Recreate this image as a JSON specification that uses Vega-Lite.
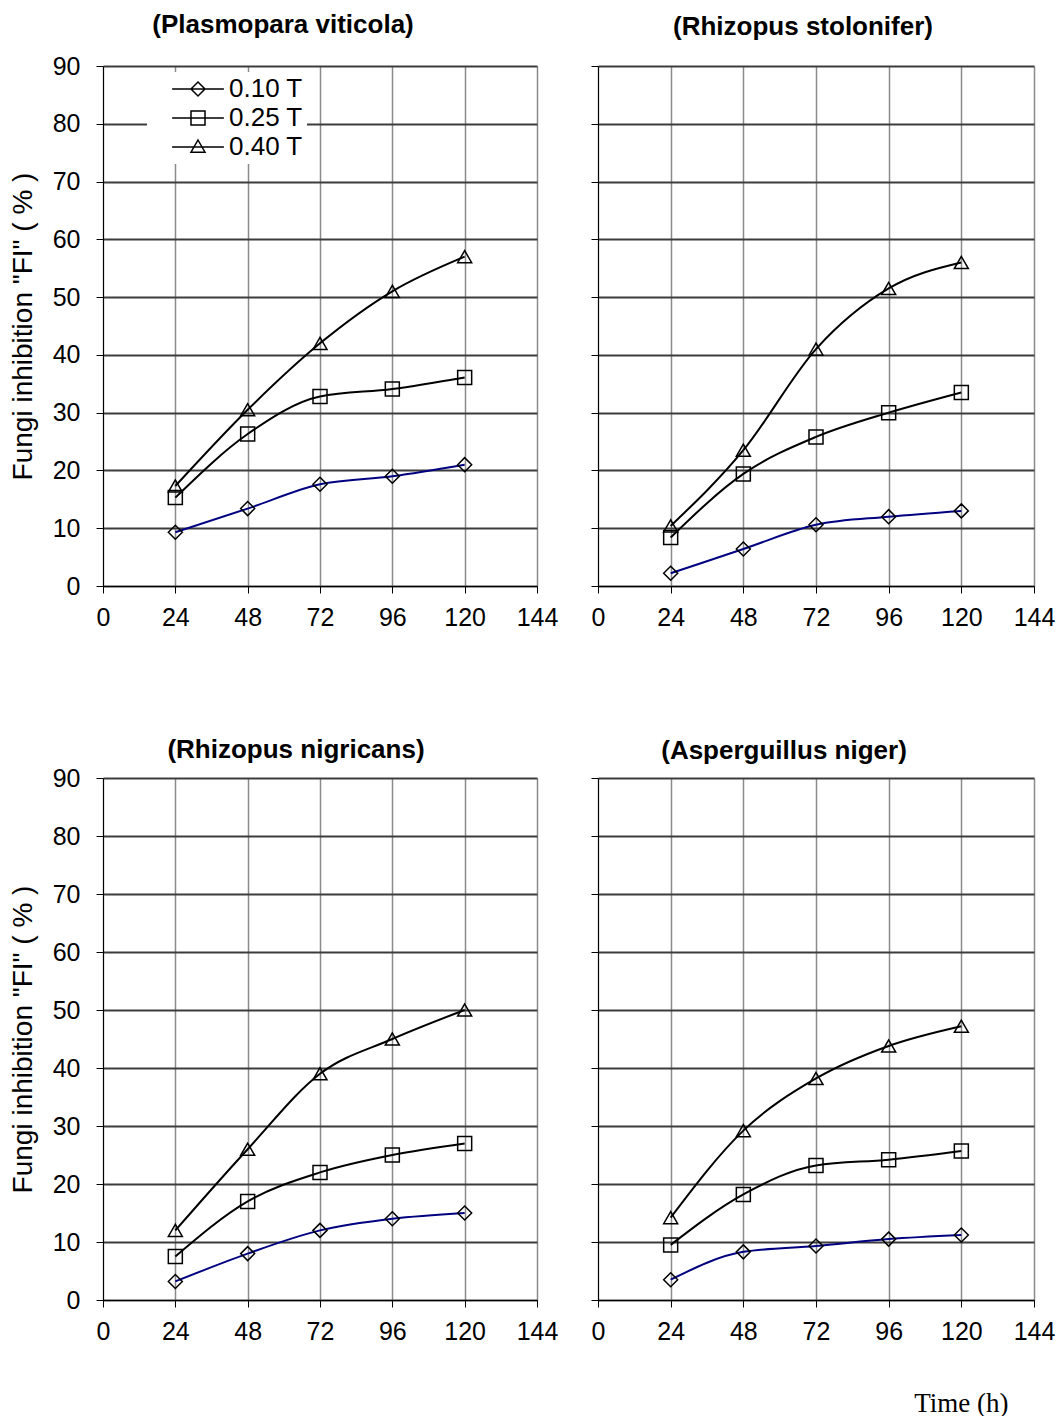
{
  "$schema": "https://vega.github.io/schema/vega-lite/v6.json",
  "background": "white",
  "padding": {"left": 9, "top": 12, "right": 10, "bottom": 0},
  "datasets": {
    "d": [
      {"panel": "A", "series": "0.10 T", "time": 24, "fi": 9.3},
      {"panel": "A", "series": "0.10 T", "time": 48, "fi": 13.4},
      {"panel": "A", "series": "0.10 T", "time": 72, "fi": 17.6},
      {"panel": "A", "series": "0.10 T", "time": 96, "fi": 19.0},
      {"panel": "A", "series": "0.10 T", "time": 120, "fi": 21.0},
      {"panel": "A", "series": "0.25 T", "time": 24, "fi": 15.3},
      {"panel": "A", "series": "0.25 T", "time": 48, "fi": 26.3},
      {"panel": "A", "series": "0.25 T", "time": 72, "fi": 32.8},
      {"panel": "A", "series": "0.25 T", "time": 96, "fi": 34.1},
      {"panel": "A", "series": "0.25 T", "time": 120, "fi": 36.1},
      {"panel": "A", "series": "0.40 T", "time": 24, "fi": 17.3},
      {"panel": "A", "series": "0.40 T", "time": 48, "fi": 30.5},
      {"panel": "A", "series": "0.40 T", "time": 72, "fi": 42.0},
      {"panel": "A", "series": "0.40 T", "time": 96, "fi": 51.0},
      {"panel": "A", "series": "0.40 T", "time": 120, "fi": 57.0},
      {"panel": "B", "series": "0.10 T", "time": 24, "fi": 2.2},
      {"panel": "B", "series": "0.10 T", "time": 48, "fi": 6.4},
      {"panel": "B", "series": "0.10 T", "time": 72, "fi": 10.6},
      {"panel": "B", "series": "0.10 T", "time": 96, "fi": 12.0},
      {"panel": "B", "series": "0.10 T", "time": 120, "fi": 13.0},
      {"panel": "B", "series": "0.25 T", "time": 24, "fi": 8.4},
      {"panel": "B", "series": "0.25 T", "time": 48, "fi": 19.4},
      {"panel": "B", "series": "0.25 T", "time": 72, "fi": 25.8},
      {"panel": "B", "series": "0.25 T", "time": 96, "fi": 30.0},
      {"panel": "B", "series": "0.25 T", "time": 120, "fi": 33.5},
      {"panel": "B", "series": "0.40 T", "time": 24, "fi": 10.4},
      {"panel": "B", "series": "0.40 T", "time": 48, "fi": 23.5},
      {"panel": "B", "series": "0.40 T", "time": 72, "fi": 41.0},
      {"panel": "B", "series": "0.40 T", "time": 96, "fi": 51.5},
      {"panel": "B", "series": "0.40 T", "time": 120, "fi": 56.0},
      {"panel": "C", "series": "0.10 T", "time": 24, "fi": 3.2},
      {"panel": "C", "series": "0.10 T", "time": 48, "fi": 8.0},
      {"panel": "C", "series": "0.10 T", "time": 72, "fi": 12.0},
      {"panel": "C", "series": "0.10 T", "time": 96, "fi": 14.0},
      {"panel": "C", "series": "0.10 T", "time": 120, "fi": 15.0},
      {"panel": "C", "series": "0.25 T", "time": 24, "fi": 7.5},
      {"panel": "C", "series": "0.25 T", "time": 48, "fi": 17.0},
      {"panel": "C", "series": "0.25 T", "time": 72, "fi": 22.0},
      {"panel": "C", "series": "0.25 T", "time": 96, "fi": 25.0},
      {"panel": "C", "series": "0.25 T", "time": 120, "fi": 27.0},
      {"panel": "C", "series": "0.40 T", "time": 24, "fi": 12.0},
      {"panel": "C", "series": "0.40 T", "time": 48, "fi": 26.0},
      {"panel": "C", "series": "0.40 T", "time": 72, "fi": 39.0},
      {"panel": "C", "series": "0.40 T", "time": 96, "fi": 45.0},
      {"panel": "C", "series": "0.40 T", "time": 120, "fi": 50.0},
      {"panel": "D", "series": "0.10 T", "time": 24, "fi": 3.5},
      {"panel": "D", "series": "0.10 T", "time": 48, "fi": 8.3},
      {"panel": "D", "series": "0.10 T", "time": 72, "fi": 9.3},
      {"panel": "D", "series": "0.10 T", "time": 96, "fi": 10.5},
      {"panel": "D", "series": "0.10 T", "time": 120, "fi": 11.2},
      {"panel": "D", "series": "0.25 T", "time": 24, "fi": 9.5},
      {"panel": "D", "series": "0.25 T", "time": 48, "fi": 18.2},
      {"panel": "D", "series": "0.25 T", "time": 72, "fi": 23.2},
      {"panel": "D", "series": "0.25 T", "time": 96, "fi": 24.2},
      {"panel": "D", "series": "0.25 T", "time": 120, "fi": 25.7},
      {"panel": "D", "series": "0.40 T", "time": 24, "fi": 14.2},
      {"panel": "D", "series": "0.40 T", "time": 48, "fi": 29.2},
      {"panel": "D", "series": "0.40 T", "time": 72, "fi": 38.2},
      {"panel": "D", "series": "0.40 T", "time": 96, "fi": 43.8},
      {"panel": "D", "series": "0.40 T", "time": 120, "fi": 47.2}
    ]
  },
  "data": {"name": "d"},
  "spacing": 107,
  "vconcat": [
    {
      "spacing": 61,
      "bounds": "flush",
      "hconcat": [
        {
          "width": 434, "height": 520,
          "title": {"text": "(Plasmopara viticola)", "dx": -37, "offset": 16, "frame": "group"},
          "transform": [{"filter": "datum.panel === 'A'"}],
          "encoding": {
            "x": {"field": "time", "type": "quantitative", "scale": {"domain": [0, 144], "nice": false}, "axis": {"title": null, "values": [0, 24, 48, 72, 96, 120, 144]}},
            "y": {"field": "fi", "type": "quantitative", "scale": {"domain": [0, 90], "nice": false}, "axis": {"title": "Fungi  inhibition \"FI\" ( % )", "values": [0, 10, 20, 30, 40, 50, 60, 70, 80, 90]}}
          },
          "resolve": {"scale": {"shape": "independent"}},
          "layer": [
            {"mark": {"type": "line", "interpolate": "monotone", "strokeWidth": 2},
             "encoding": {"color": {"field": "series", "type": "nominal", "scale": {"domain": ["0.10 T", "0.25 T", "0.40 T"], "range": ["#000080", "#000000", "#000000"]}, "legend": null}}},
            {"mark": {"type": "point", "filled": false, "size": 196, "color": "black", "strokeWidth": 1.5, "opacity": 1},
             "encoding": {"shape": {"field": "series", "type": "nominal", "scale": {"domain": ["0.10 T", "0.25 T", "0.40 T"], "range": ["diamond", "square", "triangle-up"]}, "legend": null}}},
            {"mark": {"type": "point", "filled": false, "size": 196, "color": "black", "strokeWidth": 1.5, "opacity": 0},
             "encoding": {"shape": {"field": "series", "type": "nominal",
               "scale": {"domain": ["0.10 T", "0.25 T", "0.40 T"], "range": ["M-3.7,0H3.7M0,-1L1,0L0,1L-1,0Z", "M-3.7,0H3.7M-1,-1H1V1H-1Z", "M-3.7,0H3.7M0,-1L1,0.75L-1,0.75Z"]},
               "legend": {"orient": "none", "legendX": 44, "legendY": 6, "title": null, "fillColor": "white", "padding": 4,
                 "labelFontSize": 26, "labelFont": "Liberation Sans", "labelColor": "black", "symbolSize": 196, "symbolOffset": 34, "labelOffset": 18,
                 "rowPadding": 3, "symbolOpacity": 1, "symbolStrokeWidth": 1.5, "symbolFillColor": "transparent", "symbolStrokeColor": "black", "labelLimit": 300}}}}
          ]
        },
        {
          "width": 436, "height": 520,
          "title": {"text": "(Rhizopus  stolonifer)", "dx": -13, "offset": 26, "frame": "group"},
          "transform": [{"filter": "datum.panel === 'B'"}],
          "encoding": {
            "x": {"field": "time", "type": "quantitative", "scale": {"domain": [0, 144], "nice": false}, "axis": {"title": null, "values": [0, 24, 48, 72, 96, 120, 144]}},
            "y": {"field": "fi", "type": "quantitative", "scale": {"domain": [0, 90], "nice": false}, "axis": {"title": null, "labels": false, "values": [0, 10, 20, 30, 40, 50, 60, 70, 80, 90]}}
          },
          "layer": [
            {"mark": {"type": "line", "interpolate": "monotone", "strokeWidth": 2},
             "encoding": {"color": {"field": "series", "type": "nominal", "scale": {"domain": ["0.10 T", "0.25 T", "0.40 T"], "range": ["#000080", "#000000", "#000000"]}, "legend": null}}},
            {"mark": {"type": "point", "filled": false, "size": 196, "color": "black", "strokeWidth": 1.5, "opacity": 1},
             "encoding": {"shape": {"field": "series", "type": "nominal", "scale": {"domain": ["0.10 T", "0.25 T", "0.40 T"], "range": ["diamond", "square", "triangle-up"]}, "legend": null}}}
          ]
        }
      ]
    },
    {
      "spacing": 61,
      "bounds": "flush",
      "hconcat": [
        {
          "width": 434, "height": 522,
          "title": {"text": "(Rhizopus nigricans)", "dx": -24, "offset": 3, "frame": "group"},
          "transform": [{"filter": "datum.panel === 'C'"}],
          "encoding": {
            "x": {"field": "time", "type": "quantitative", "scale": {"domain": [0, 144], "nice": false}, "axis": {"title": null, "values": [0, 24, 48, 72, 96, 120, 144]}},
            "y": {"field": "fi", "type": "quantitative", "scale": {"domain": [0, 90], "nice": false}, "axis": {"title": "Fungi  inhibition \"FI\" ( % )", "values": [0, 10, 20, 30, 40, 50, 60, 70, 80, 90]}}
          },
          "layer": [
            {"mark": {"type": "line", "interpolate": "monotone", "strokeWidth": 2},
             "encoding": {"color": {"field": "series", "type": "nominal", "scale": {"domain": ["0.10 T", "0.25 T", "0.40 T"], "range": ["#000080", "#000000", "#000000"]}, "legend": null}}},
            {"mark": {"type": "point", "filled": false, "size": 196, "color": "black", "strokeWidth": 1.5, "opacity": 1},
             "encoding": {"shape": {"field": "series", "type": "nominal", "scale": {"domain": ["0.10 T", "0.25 T", "0.40 T"], "range": ["diamond", "square", "triangle-up"]}, "legend": null}}}
          ]
        },
        {
          "width": 436, "height": 522,
          "title": {"text": "(Asperguillus niger)", "dx": -32, "offset": 14, "frame": "group"},
          "transform": [{"filter": "datum.panel === 'D'"}],
          "encoding": {
            "x": {"field": "time", "type": "quantitative", "scale": {"domain": [0, 144], "nice": false},
                  "axis": {"values": [0, 24, 48, 72, 96, 120, 144], "title": "Time (h)", "titleFont": "Liberation Serif", "titleFontSize": 27, "titleFontWeight": "normal", "titleColor": "black",
                           "titleAlign": "right", "titleAnchor": null, "titleX": 410, "titleY": 111, "titleBaseline": "alphabetic"}},
            "y": {"field": "fi", "type": "quantitative", "scale": {"domain": [0, 90], "nice": false}, "axis": {"title": null, "labels": false, "values": [0, 10, 20, 30, 40, 50, 60, 70, 80, 90]}}
          },
          "layer": [
            {"mark": {"type": "line", "interpolate": "monotone", "strokeWidth": 2},
             "encoding": {"color": {"field": "series", "type": "nominal", "scale": {"domain": ["0.10 T", "0.25 T", "0.40 T"], "range": ["#000080", "#000000", "#000000"]}, "legend": null}}},
            {"mark": {"type": "point", "filled": false, "size": 196, "color": "black", "strokeWidth": 1.5, "opacity": 1},
             "encoding": {"shape": {"field": "series", "type": "nominal", "scale": {"domain": ["0.10 T", "0.25 T", "0.40 T"], "range": ["diamond", "square", "triangle-up"]}, "legend": null}}}
          ]
        }
      ]
    }
  ],
  "config": {
    "font": "Liberation Sans",
    "view": {"stroke": null},
    "title": {"fontSize": 26, "fontWeight": "bold", "font": "Liberation Sans", "color": "black", "anchor": "middle"},
    "axis": {"labelFontSize": 25, "labelFont": "Liberation Sans", "labelColor": "black", "domainColor": "black", "domainWidth": 1, "tickColor": "black", "tickSize": 7, "tickWidth": 1,
             "titleFont": "Liberation Sans", "titleFontSize": 28, "titleFontWeight": "normal", "titleColor": "black", "labelOverlap": false, "labelFlush": false},
    "axisX": {"gridColor": "#8a8a8a", "gridWidth": 1.5, "gridOpacity": 1, "labelPadding": 12},
    "axisY": {"gridColor": "#3c3c3c", "gridWidth": 2, "gridOpacity": 1, "labelPadding": 16, "titlePadding": 15}
  }
}
